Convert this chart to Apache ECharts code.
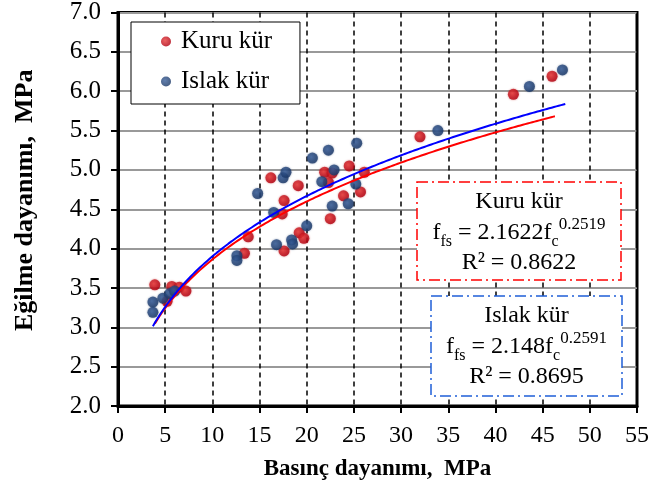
<!DOCTYPE html>
<html>
<head>
<meta charset="utf-8">
<script src="https://cdn.jsdelivr.net/npm/echarts@6/dist/echarts.min.js"></script>
<style>html,body{margin:0;padding:0;background:#fff}#c{width:652px;height:489px}</style>
</head>
<body>
<div id="c"></div>
<script>
// ---- data ----
const kuruX = [3.9, 5.7, 6.5, 7.2, 5.2, 13.4, 13.8, 16.2, 17.6, 17.4, 17.6, 19.1, 19.2, 19.7, 21.9, 22.7, 22.3, 22.5, 24.5, 23.9, 26.1, 25.7, 32.0, 41.9, 46.0];
const kuruY = [3.54, 3.52, 3.51, 3.46, 3.33, 3.94, 4.15, 4.90, 4.61, 4.44, 3.97, 4.80, 4.20, 4.13, 4.97, 4.96, 4.84, 4.38, 5.05, 4.67, 4.97, 4.72, 5.42, 5.96, 6.19];
const islakX = [3.7, 3.7, 4.75, 5.5, 6.0, 12.6, 12.6, 14.8, 16.5, 16.8, 17.5, 17.8, 18.4, 18.5, 20.0, 20.6, 22.3, 21.6, 22.9, 22.7, 24.4, 25.2, 25.3, 33.9, 43.6, 47.1];
const islakY = [3.32, 3.19, 3.37, 3.43, 3.46, 3.91, 3.85, 4.70, 4.46, 4.05, 4.90, 4.97, 4.11, 4.06, 4.29, 5.15, 5.25, 4.85, 5.00, 4.54, 4.57, 4.82, 5.34, 5.50, 6.06, 6.27];
// power-law fits printed on the chart: f_fs = a * f_c^b
const kuruFit = { a: 2.1622, b: 0.2519, r2: 0.8622, from: 3.9, to: 46.3 };
const islakFit = { a: 2.148, b: 0.2591, r2: 0.8695, from: 3.7, to: 47.4 };
const xTicks = { min: 0, max: 55, step: 5 };
const yTicks = { min: 2.0, max: 7.0, step: 0.5 };

const FONT = "'Liberation Serif','Times New Roman',serif";
function zip(xs, ys) { return xs.map((x, i) => [x, ys[i]]); }
function fitCurve(f) {
  const pts = [];
  for (let x = f.from; x < f.to; x += 0.25) pts.push([x, f.a * Math.pow(x, f.b)]);
  pts.push([f.to, f.a * Math.pow(f.to, f.b)]);
  return pts;
}
function grad(c1, c2) {
  return { type: 'radial', x: 0.4, y: 0.4, r: 0.6, colorStops: [{ offset: 0, color: c1 }, { offset: 1, color: c2 }] };
}
const redFill = grad('#e83a3a', '#b00010');
const blueFill = grad('#3a5f9a', '#1a3766');

const chart = echarts.init(document.getElementById('c'), null, { renderer: 'canvas' });
const eqRich = {
  b: { fontFamily: FONT, fontSize: 24, color: '#000', lineHeight: 34, verticalAlign: 'middle' },
  s: { fontFamily: FONT, fontSize: 16, color: '#000', lineHeight: 34, verticalAlign: 'bottom' },
  p: { fontFamily: FONT, fontSize: 17, color: '#000', lineHeight: 34, verticalAlign: 'top' }
};
function box(x, y, w, h, color, title, fit) {
  return [
    { type: 'rect', z: 100, shape: { x: x, y: y, width: w, height: h },
      style: { fill: '#fff', stroke: color, lineWidth: 1.5, lineDash: [11, 4, 2, 4] } },
    { type: 'text', z: 101, style: { x: x + w / 2, y: y + 20, text: title, font: '24px ' + FONT, fill: '#000', align: 'center', verticalAlign: 'middle' } },
    { type: 'text', z: 101, style: { x: x + w / 2, y: y + 51, align: 'center', verticalAlign: 'middle',
        text: '{b|f}{s|fs}{b| = ' + fit.a + 'f}{s|c}{p|' + fit.b + '}', rich: eqRich } },
    { type: 'text', z: 101, style: { x: x + w / 2, y: y + 81, text: 'R² = ' + fit.r2, font: '24px ' + FONT, fill: '#000', align: 'center', verticalAlign: 'middle' } }
  ];
}

chart.setOption({
  animation: false,
  backgroundColor: '#fff',
  grid: { left: 118, right: 13, top: 11, bottom: 83, show: true, borderColor: '#000', borderWidth: 3, backgroundColor: 'transparent' },
  legend: {
    left: 131, top: 22, orient: 'vertical', backgroundColor: '#fff', borderColor: '#000', borderWidth: 1,
    padding: [7, 28, 10, 30], itemGap: 15, itemWidth: 10, itemHeight: 10,
    textStyle: { fontFamily: FONT, fontSize: 25, color: '#000', padding: [0, 0, 0, 5] },
    data: [{ name: 'Kuru kür', icon: 'circle' }, { name: 'Islak kür', icon: 'circle' }],
    z: 50
  },
  xAxis: {
    type: 'value', min: xTicks.min, max: xTicks.max, interval: xTicks.step,
    name: 'Basınç dayanımı,  MPa', nameLocation: 'middle', nameGap: 52,
    nameTextStyle: { fontFamily: FONT, fontSize: 23, fontWeight: 'bold', color: '#000' },
    axisLine: { show: true, lineStyle: { color: '#000', width: 3 } },
    axisTick: { show: true, length: 7, lineStyle: { color: '#000', width: 2 } },
    axisLabel: { fontFamily: FONT, fontSize: 24, color: '#000', margin: 18 },
    splitLine: { show: true, lineStyle: { color: '#000', width: 1.5, type: [5, 4] } }
  },
  yAxis: {
    type: 'value', min: yTicks.min, max: yTicks.max, interval: yTicks.step,
    name: 'Eğilme dayanımı,  MPa', nameLocation: 'middle', nameGap: 80,
    nameTextStyle: { fontFamily: FONT, fontSize: 26, fontWeight: 'bold', color: '#000', padding: [0, 0, 0, 18] },
    axisLine: { show: true, lineStyle: { color: '#000', width: 3 } },
    axisTick: { show: true, length: 7, lineStyle: { color: '#000', width: 2 } },
    axisLabel: { fontFamily: FONT, fontSize: 25, color: '#000', margin: 17, formatter: v => v.toFixed(1) },
    splitLine: { show: true, lineStyle: { color: '#999', width: 2 } }
  },
  series: [
    { name: 'Kuru kür', type: 'scatter', data: zip(kuruX, kuruY), symbolSize: 11, z: 3,
      itemStyle: { color: redFill, shadowBlur: 2, shadowColor: 'rgba(180,0,0,0.6)' } },
    { name: 'Islak kür', type: 'scatter', data: zip(islakX, islakY), symbolSize: 11, z: 3,
      itemStyle: { color: blueFill, shadowBlur: 2, shadowColor: 'rgba(20,50,100,0.6)' } },
    { name: 'Kuru fit', type: 'line', data: fitCurve(kuruFit), showSymbol: false, z: 4, silent: true,
      lineStyle: { color: '#ff0000', width: 2 } },
    { name: 'Islak fit', type: 'line', data: fitCurve(islakFit), showSymbol: false, z: 5, silent: true,
      lineStyle: { color: '#0000ff', width: 2 } }
  ],
  graphic: [].concat(
    box(417, 182, 204, 98, '#ff0000', 'Kuru kür', kuruFit),
    box(431, 296, 191, 100, '#1f5fd8', 'Islak kür', islakFit)
  )
});
</script>
</body>
</html>
